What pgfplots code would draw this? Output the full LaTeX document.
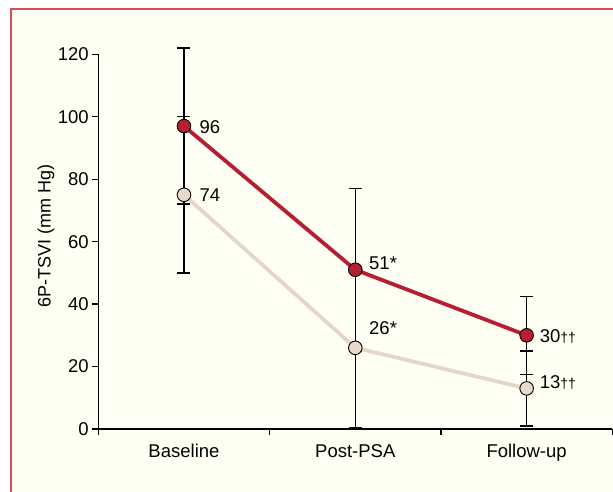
\documentclass[border=0pt]{standalone}
\usepackage{fontspec}
\setmainfont{Liberation Sans}
\usepackage{pgfplots}
\pgfplotsset{compat=1.18}
\definecolor{redline}{RGB}{182,30,50}
\definecolor{beigeline}{RGB}{230,214,200}
\definecolor{beigefill}{RGB}{232,218,204}
\definecolor{bgcream}{RGB}{255,255,243}
\definecolor{borderred}{RGB}{214,80,92}
\begin{document}
\begin{tikzpicture}[font=\fontsize{18.5}{21}\selectfont]
\useasboundingbox (0pt,0pt) rectangle (613pt,492pt);
\fill[white] (0pt,0pt) rectangle (613pt,492pt);
\fill[bgcream] (10.8pt,-10pt) rectangle (630pt,483pt);
\draw[borderred, line width=1.8pt] (10.8pt,-10pt) -- (10.8pt,483pt) -- (630pt,483pt);
\coordinate (O) at (98.3pt,63pt);
\begin{axis}[
  at={(O)}, anchor=south west,
  scale only axis, width=514pt, height=374.7pt,
  xmin=-0.5, xmax=2.5, ymin=0, ymax=120,
  axis x line=bottom, axis y line=left,
  axis line style={black, line width=1.2pt, -},
  xtick={0,1,2}, xticklabels={Baseline,Post-PSA,Follow-up},
  minor xtick={-0.5,0.5,1.5,2.5},
  ytick={0,20,40,60,80,100,120},
  tick align=outside,
  major tick length=6pt, minor tick length=6pt,
  every major x tick/.style={draw=none},
  every minor x tick/.style={black, line width=1.2pt},
  every major y tick/.style={black, line width=1.2pt},
  /pgf/number format/assume math mode=true,
  tick label style={font=\fontsize{18.5}{21}\selectfont},
  xticklabel style={yshift=-6pt},
  ylabel={6P-TSVI (mm Hg)},
  ylabel style={at={(axis description cs:-0.1018,0.515)}, anchor=center, rotate=0, font=\fontsize{18}{21}\selectfont},
  clip=false,
]
\addplot[draw=none, forget plot, error bars/.cd, y dir=both, y explicit,
  error bar style={draw=black, line width=1.5pt},
  error mark=-,
  error mark options={rotate=90, draw=black, mark size=6.5pt, line width=1.5pt}]
  coordinates {(0,97) +- (0,25) (1,51) +- (0,26) (2,30) +- (0,12.5)};
\addplot[draw=none, forget plot, error bars/.cd, y dir=both, y explicit,
  error bar style={draw=black, line width=1.5pt},
  error mark=-,
  error mark options={rotate=90, draw=black, mark size=6.5pt, line width=1.5pt}]
  coordinates {(0,75) +- (0,25) (1,26) +- (0,25.5) (2,13) +- (0,12)};
\addplot[beigeline, line width=3.8pt] coordinates {(0,75) (1,26) (2,13)};
\addplot[redline, line width=3.8pt] coordinates {(0,97) (1,51) (2,30)};
\addplot[only marks, mark=*, mark size=6.8pt, mark options={fill=beigefill, draw=black, line width=0.9pt}]
  coordinates {(0,75) (1,26) (2,13)};
\addplot[only marks, mark=*, mark size=6.8pt, mark options={fill=redline, draw=black, line width=0.9pt}]
  coordinates {(0,97) (1,51) (2,30)};
\node[anchor=base west, inner sep=0pt] at (axis cs:0.09,94.7) {96};
\node[anchor=base west, inner sep=0pt] at (axis cs:0.09,72.9) {74};
\node[anchor=base west, inner sep=0pt] at (axis cs:1.08,51.2) {51*};
\node[anchor=base west, inner sep=0pt] at (axis cs:1.08,30.3) {26*};
\node[anchor=base west, inner sep=0pt] at (axis cs:2.076,27.8) {30{\fontsize{14}{14}\selectfont ††}};
\node[anchor=base west, inner sep=0pt] at (axis cs:2.076,12.9) {13{\fontsize{14}{14}\selectfont ††}};
\end{axis}
\end{tikzpicture}
\end{document}
